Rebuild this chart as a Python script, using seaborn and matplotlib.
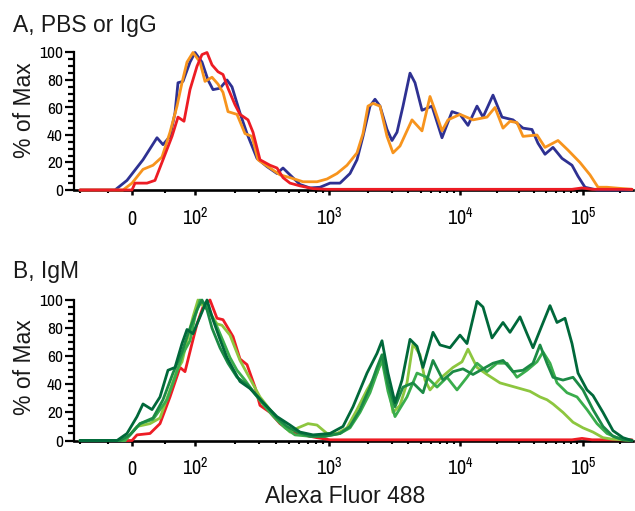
import numpy as np
import matplotlib
matplotlib.use("Agg")
import matplotlib.pyplot as plt
import seaborn as sns
from matplotlib import font_manager

sns.set_theme(style="ticks")

names = {f.name for f in font_manager.fontManager.ttflist}
NARROW = next((n for n in ["Liberation Sans Narrow", "Archivo Narrow", "PT Sans Narrow"] if n in names),
              "Liberation Sans")
plt.rcParams["font.family"] = ["Liberation Sans", "DejaVu Sans"]
plt.rcParams["text.color"] = "#1a1a1a"
plt.rcParams["mathtext.fontset"] = "custom"
plt.rcParams["mathtext.rm"] = NARROW
plt.rcParams["mathtext.it"] = NARROW
plt.rcParams["mathtext.bf"] = NARROW

# ── data: x is the display channel of the biexponential axis, y is % of max ──
TICK_CH = [55, 118, 252, 383, 506]
TICK_LABELS = ["0", "$10^2$", "$10^3$", "$10^4$", "$10^5$"]
DECADE_W = [134, 131, 123]

A_BLUE_X = [3, 38, 50, 66, 80, 86, 93, 98, 101, 106, 113, 118, 125, 131, 136, 143, 150, 155, 163, 170,
            180, 190, 200, 206, 213, 223, 233, 243, 253, 263, 273, 280, 286, 293, 298, 303, 310, 315, 320, 326,
            333, 338, 345, 355, 365, 375, 383, 391, 400, 406, 416, 425, 436, 446, 455, 461, 468, 476, 485, 495,
            501, 508, 520, 555]
A_BLUE_Y = [0, 0, 7, 22, 38, 33, 39, 56, 78, 79, 93, 100, 93, 80, 73, 74, 80, 75, 56, 41,
            23, 17, 12, 16, 11, 4, 1.5, 2, 5, 5, 12, 22, 39, 61, 66, 61, 44, 36, 42, 61,
            85, 78, 58, 61, 38, 57, 55, 47, 61, 53, 69, 53, 51, 45, 44, 34, 26, 31, 23, 18,
            10, 2, 0, 0]

A_ORANGE_X = [3, 46, 55, 66, 76, 85, 93, 100, 105, 110, 116, 123, 128, 135, 141, 146, 151, 160, 168, 175,
              181, 193, 203, 213, 226, 240, 250, 260, 270, 280, 286, 291, 296, 303, 310, 316, 323, 335, 345, 353,
              358, 365, 371, 383, 396, 410, 418, 426, 433, 440, 446, 460, 468, 481, 491, 503, 513, 521, 530, 546,
              555]
A_ORANGE_Y = [0, 0, 5, 15, 18, 24, 42, 61, 78, 93, 100, 93, 79, 82, 77, 71, 57, 55, 41, 39,
              22, 16, 11, 9, 6, 6, 8, 12, 18, 27, 41, 61, 63, 61, 39, 27, 32, 51, 43, 68,
              58, 43, 51, 55, 51, 53, 60, 45, 50, 49, 39, 40, 31, 36, 29, 20, 11, 2, 2, 1,
              0.5]

A_RED_X = [3, 55, 58, 70, 78, 86, 95, 101, 107, 113, 120, 125, 130, 135, 141, 146, 151, 158, 163, 171,
           176, 183, 193, 200, 206, 213, 223, 236, 250, 495, 505, 515, 555]
A_RED_Y = [0, 0, 5, 5, 7, 22, 39, 53, 50, 73, 90, 98.5, 100, 91, 86, 84, 74, 62, 55, 51,
           42, 22, 18, 16, 9, 5, 3, 1, 0.5, 0.5, 1.5, 0.5, 0.5]

B_RED_X = [3, 55, 60, 73, 83, 93, 103, 108, 115, 120, 126, 133, 140, 146, 151, 156, 163, 170, 178, 183,
           193, 203, 213, 226, 240, 253, 495, 505, 515, 555]
B_RED_Y = [0, 0, 4, 5, 12, 31, 52, 49, 69, 83, 95, 100, 87, 86, 80, 74, 58, 54, 38, 25,
           20, 12, 7, 4, 2, 0.5, 0.5, 1.5, 0.5, 0.5]

B_LIGHT_X = [3, 48, 60, 73, 83, 93, 100, 105, 111, 116, 121, 126, 131, 140, 145, 153, 163, 173, 183, 193,
             203, 213, 221, 231, 240, 250, 260, 270, 280, 290, 300, 306, 311, 316, 323, 330, 336, 343, 348, 353,
             363, 376, 385, 391, 400, 410, 423, 433, 443, 453, 463, 470, 476, 486, 496, 506, 516, 526, 535, 555]
B_LIGHT_Y = [0, 0, 10, 12, 16, 36, 50, 56, 74, 88, 100, 96, 93, 83, 82, 75, 57, 44, 31, 22,
             13, 6, 9, 12, 11, 5, 5, 9, 22, 36, 48, 61, 41, 20, 25, 41, 69, 61, 43, 36,
             44, 52, 56, 65, 52, 47, 41, 39, 37, 35, 31, 29, 26, 20, 13, 9, 6, 2, 1, 0]

B_MID_X = [3, 48, 63, 76, 90, 98, 106, 113, 118, 123, 130, 135, 140, 146, 153, 160, 168, 178, 188, 198,
           208, 218, 233, 248, 263, 273, 283, 293, 301, 305, 311, 318, 330, 340, 350, 360, 370, 380, 390, 400,
           410, 420, 430, 440, 450, 460, 466, 473, 480, 490, 500, 510, 520, 530, 540, 555]
B_MID_Y = [0, 0, 12, 15, 29, 45, 62, 71, 88, 100, 96, 88, 81, 71, 59, 50, 43, 33, 24, 16,
           9, 4, 3, 3, 5, 9, 20, 34, 50, 57, 35, 17, 31, 48, 45, 38, 45, 36, 45, 55,
           49, 55, 55, 45, 50, 56, 63, 55, 41, 34, 31, 22, 12, 5, 2, 0]

B_DARK_X = [3, 43, 53, 63, 76, 86, 96, 105, 111, 120, 125, 130, 135, 143, 151, 160, 170, 180, 190, 200,
            210, 220, 233, 248, 263, 273, 283, 293, 300, 305, 311, 318, 326, 336, 346, 356, 366, 376, 386, 396,
            406, 416, 426, 436, 446, 456, 463, 470, 476, 486, 496, 506, 516, 526, 536, 546, 555]
B_DARK_Y = [0, 0, 4, 12, 16, 29, 48, 63, 76, 93, 100, 93, 80, 66, 55, 45, 40, 32, 24, 16,
            10, 6, 3, 3, 5, 10, 22, 38, 52, 61, 40, 24, 38, 41, 34, 57, 43, 49, 51, 47,
            51, 55, 57, 49, 50, 55, 68, 55, 45, 43, 45, 36, 22, 10, 3, 0.5, 0]

B_DARKEST_X = [3, 40, 50, 60, 66, 75, 83, 91, 98, 105, 110, 116, 123, 130, 136, 143, 150, 156, 163, 173,
               186, 200, 213, 223, 236, 253, 266, 276, 283, 290, 300, 305, 311, 318, 325, 333, 340, 346, 356, 363,
               373, 383, 390, 400, 406, 415, 426, 433, 443, 450, 456, 465, 473, 480, 488, 495, 501, 510, 516, 526,
               536, 546, 555]
B_DARKEST_Y = [0, 0, 5, 17, 26, 22, 31, 50, 52, 69, 79, 76, 88, 100, 86, 72, 59, 51, 42, 37,
               27, 17, 11, 6, 4, 5, 10, 24, 36, 48, 62, 71, 48, 27, 43, 72, 67, 52, 77, 68,
               66, 75, 69, 99, 95, 73, 84, 77, 88, 76, 66, 82, 96, 84, 87, 69, 48, 36, 32, 20,
               7, 2, 0]

BLUE, ORANGE, RED = "#2e3192", "#f7941d", "#ed1c24"
G_LIGHT, G_MID, G_DARK, G_DARKEST = "#8dc63f", "#3aad4c", "#1b8a45", "#00683a"

# ── figure ──────────────────────────────────────────────────────────────────
fig = plt.figure(figsize=(6.35, 5.11), dpi=100)
axA = fig.add_axes([74 / 635, 1 - 190 / 511, 559 / 635, 137.5 / 511])
axB = fig.add_axes([74 / 635, 1 - 440.5 / 511, 559 / 635, 140.5 / 511])

minor_ch = [3, 31, 88]
for base, w in zip(TICK_CH[1:4], DECADE_W):
    minor_ch += [base + np.log10(k) * w for k in range(2, 10)]
minor_ch.append(TICK_CH[4] + np.log10(2) * DECADE_W[2])


def draw(ax, curves):
    for xs, ys, c in curves:
        sns.lineplot(x=xs, y=ys, ax=ax, color=c, lw=2.0, sort=False,
                     clip_on=False, zorder=3)
    ax.set_xlim(-3, 556)
    ax.set_ylim(0, 100)
    for s in ["top", "right"]:
        ax.spines[s].set_visible(False)
    ax.spines["left"].set_linewidth(1.6)
    ax.spines["bottom"].set_linewidth(1.9)
    ax.spines["left"].set_color("black")
    ax.spines["bottom"].set_color("black")
    ax.set_yticks(range(0, 101, 20))
    ax.set_yticks([v for v in range(0, 101, 5) if v % 20], minor=True)
    ax.tick_params(axis="y", which="major", direction="out", length=6.5, width=1.6,
                   pad=1.5, labelsize=12.5, color="black", labelcolor="black")
    ax.tick_params(axis="y", which="minor", direction="out", length=4, width=1.6,
                   color="black", left=True)
    ax.set_xticks(TICK_CH)
    ax.set_xticks(minor_ch, minor=True)
    ax.set_xticklabels(TICK_LABELS)
    ax.tick_params(axis="x", which="major", direction="out", length=3.5, width=1.8,
                   pad=21.5, labelsize=14.5, color="black", labelcolor="black")
    ax.tick_params(axis="x", which="minor", direction="out", length=2.2, width=1.5,
                   color="black", bottom=True)
    for lbl in ax.get_yticklabels():
        lbl.set_family([NARROW, "Liberation Sans"])
    for lbl in ax.get_xticklabels():
        lbl.set_family([NARROW, "Liberation Sans"])
        lbl.set_va("baseline")
    ax.set_xlabel("")
    ax.set_ylabel("")


draw(axA, [(A_BLUE_X, A_BLUE_Y, BLUE), (A_ORANGE_X, A_ORANGE_Y, ORANGE), (A_RED_X, A_RED_Y, RED)])
draw(axB, [(B_RED_X, B_RED_Y, RED), (B_LIGHT_X, B_LIGHT_Y, G_LIGHT), (B_MID_X, B_MID_Y, G_MID),
           (B_DARK_X, B_DARK_Y, G_DARK), (B_DARKEST_X, B_DARKEST_Y, G_DARKEST)])

fig.text(13 / 635, 1 - 31.7 / 511, "A, PBS or IgG", fontsize=16.5, va="baseline", ha="left")
fig.text(13 / 635, 1 - 278 / 511, "B, IgM", fontsize=16.5, va="baseline", ha="left")
fig.text(25 / 635, 1 - 110 / 511, "% of Max", fontsize=16.5, rotation=90, ha="center", va="center")
fig.text(25 / 635, 1 - 367 / 511, "% of Max", fontsize=16.5, rotation=90, ha="center", va="center")
fig.text(345 / 635, 1 - 503 / 511, "Alexa Fluor 488", fontsize=16.5, ha="center", va="baseline")

fig.savefig("out.png", dpi=100)
